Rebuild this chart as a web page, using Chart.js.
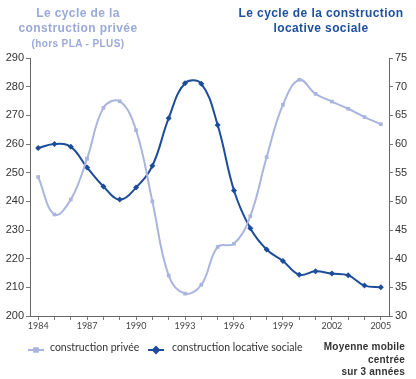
<!DOCTYPE html>
<html><head><meta charset="utf-8">
<script src="https://cdn.jsdelivr.net/npm/chart.js@4"></script>
<style>
html,body{margin:0;padding:0;background:#fff;}
#wrap{position:relative;width:416px;height:379px;overflow:hidden;}
canvas{position:absolute;left:0;top:0;}
.t{position:absolute;font-family:"Liberation Sans",Arial,sans-serif;font-weight:bold;text-align:center;letter-spacing:0.4px;}
.lg{position:absolute;font-family:Lato,"DejaVu Sans",sans-serif;font-size:10.5px;color:#333;}
</style></head>
<body><div id="wrap">
<canvas id="c" width="416" height="379"></canvas>
<div class="t" style="left:7px;top:6px;width:142px;color:#9aaad8;font-size:12px;line-height:15px;">Le cycle de la<br>construction privée<br><span style="font-size:10px;">(hors PLA - PLUS)</span></div>
<div class="t" style="left:226px;top:6px;width:190px;color:#1f4f9f;font-size:12px;line-height:15px;">Le cycle de la construction<br>locative sociale</div>
<div class="lg" style="left:50px;top:341px;">construction privée</div>
<div class="lg" style="left:172px;top:341px;">construction locative sociale</div>
<div class="t" style="right:11px;top:341px;text-align:right;color:#333;font-size:10px;line-height:12.5px;letter-spacing:0.2px;">Moyenne mobile<br>centrée<br>sur 3 années</div>
</div>
<script>
const years = [1984,1985,1986,1987,1988,1989,1990,1991,1992,1993,1994,1995,1996,1997,1998,1999,2000,2001,2002,2003,2004,2005];
const privee = [248.5,235.4,240.6,254.9,272.6,274.9,264.8,240,214.1,207.8,210.9,224.1,225.2,234.8,255.4,273.7,282.4,277.5,274.8,272.3,269.4,266.9];
const sociale = [59.3,60.0,59.5,55.9,52.6,50.3,52.4,56.2,64.5,70.6,70.5,63.3,51.9,45.3,41.6,39.6,37.2,37.8,37.4,37.1,35.3,35.0];
const leftTicks = [200,210,220,230,240,250,260,270,280,290];
const rightTicks = [30,35,40,45,50,55,60,65,70,75];
const xLabelYears = [1984,1987,1990,1993,1996,1999,2002,2005];

const cLight = '#a9b5de';
const cDark = '#1c4c9a';

const legendMarks = {
  id:'legendMarks',
  afterDraw(chart){
    const ctx = chart.ctx;
    const items = [[28,44,350,cLight,'rect',2.6],[148,164,350,cDark,'rectRot',3]];
    items.forEach(([x1,x2,y,col,ps,r])=>{
      ctx.save();
      ctx.strokeStyle=col;ctx.lineWidth=2;
      ctx.beginPath();ctx.moveTo(x1,y);ctx.lineTo(x2,y);ctx.stroke();
      ctx.fillStyle=col;
      Chart.helpers.drawPoint(ctx,{pointStyle:ps,radius:r,borderWidth:1},(x1+x2)/2,y);
      ctx.fill();
      ctx.restore();
    });
  }
};

new Chart(document.getElementById('c'),{
  type:'line',
  data:{
    labels:years.map(String),
    datasets:[
      {label:'construction privée',data:privee,yAxisID:'yL',borderColor:cLight,backgroundColor:cLight,
       borderWidth:2,pointStyle:'rect',pointRadius:2.6,pointBorderWidth:0,tension:0.4},
      {label:'construction locative sociale',data:sociale,yAxisID:'yR',borderColor:cDark,backgroundColor:cDark,
       borderWidth:2,pointStyle:'rectRot',pointRadius:3,pointBorderWidth:0,tension:0.4}
    ]
  },
  options:{
    responsive:false,animation:false,
    layout:{padding:{top:58,bottom:43,left:0,right:0}},
    plugins:{legend:{display:false},tooltip:{enabled:false}},
    scales:{
      x:{offset:true,
        grid:{drawOnChartArea:false,drawTicks:true,tickLength:4,color:'#777',offset:false},
        border:{display:true,color:'#666',width:1},
        ticks:{autoSkip:false,maxRotation:0,padding:1,color:'#444',font:{family:'Lato, "DejaVu Sans"',size:9},
          callback:function(v,i){const y=years[i];return xLabelYears.includes(y)?String(y):'';}},
        afterFit(s){s.height=20;}
      },
      yL:{position:'left',min:200,max:290,
        afterBuildTicks(s){s.ticks=leftTicks.map(v=>({value:v}));},
        grid:{drawOnChartArea:false,tickLength:4,color:'#777'},
        border:{display:true,color:'#666',width:1},
        ticks:{padding:2,color:'#333',font:{family:'"Liberation Sans"',size:11}},
        afterFit(s){s.width=30;}
      },
      yR:{position:'right',min:30,max:75,
        afterBuildTicks(s){s.ticks=rightTicks.map(v=>({value:v}));},
        grid:{drawOnChartArea:false,tickLength:4,color:'#777'},
        border:{display:true,color:'#666',width:1},
        ticks:{padding:2,color:'#333',font:{family:'"Liberation Sans"',size:11}},
        afterFit(s){s.width=27;}
      }
    }
  },
  plugins:[legendMarks]
});
</script>
</body></html>
